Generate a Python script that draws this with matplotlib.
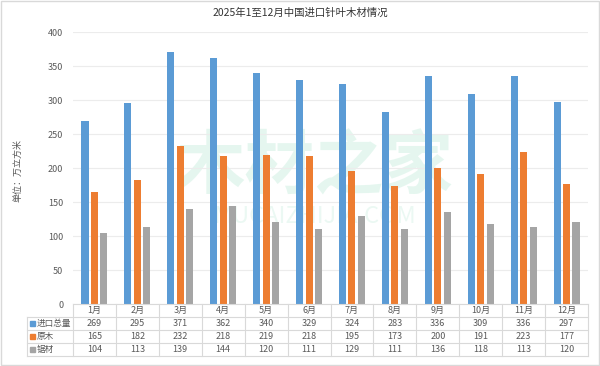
import numpy as np
import matplotlib.pyplot as plt
from matplotlib.patches import Rectangle

plt.rcParams['font.family'] = ['Noto Sans CJK SC', 'DejaVu Sans']

months = ['1月', '2月', '3月', '4月', '5月', '6月', '7月', '8月', '9月', '10月', '11月', '12月']
total = [269, 295, 371, 362, 340, 329, 324, 283, 336, 309, 336, 297]
logs = [165, 182, 232, 218, 219, 218, 195, 173, 200, 191, 223, 177]
lumber = [104, 113, 139, 144, 120, 111, 129, 111, 136, 118, 113, 120]
series_names = ['进口总量', '原木', '锯材']
colors = ['#5B9BD5', '#ED7D31', '#A5A5A5']

W, H = 600, 366
fig = plt.figure(figsize=(6, 3.66), dpi=100)

# pixel helpers
def fx(px):
    return px / W

def fy(py):
    return 1 - py / H

ax_l, ax_r, ax_t, ax_b = 73, 588, 32, 304
ax = fig.add_axes([fx(ax_l), fy(ax_b), fx(ax_r - ax_l), fy(ax_t) - fy(ax_b)])
ax.patch.set_alpha(0)

x = np.arange(len(months))
bw = 0.165
off = 0.22
for i, vals in enumerate([total, logs, lumber]):
    ax.bar(x + (i - 1) * off, vals, width=bw, color=colors[i], zorder=3)

ax.set_xlim(-0.5, len(months) - 0.5)
ax.set_ylim(0, 400)
ax.set_yticks(range(0, 401, 50))
ax.set_xticks([])
ax.grid(axis='y', color='#ECECEC', linewidth=0.8, zorder=0)
for s in ax.spines.values():
    s.set_visible(False)
ax.tick_params(axis='y', length=0, labelsize=6.5, labelcolor='#595959', pad=7)

fig.text(fx(300), fy(13), '2025年1至12月中国进口针叶木材情况', ha='center', va='center',
         fontsize=7.5, color='#333333')
fig.text(fx(18), fy(170), '单位：万立方米', rotation=90, ha='center', va='center',
         fontsize=6.5, color='#595959')

# watermark, behind the bars
ax.text(0.47, 0.5, '木材之家', transform=ax.transAxes, ha='center', va='center', fontsize=50,
        color='#3CC08A', alpha=0.13, fontweight='bold', zorder=1)
ax.text(0.47, 0.32, 'MUCAIZHIJIA.COM', transform=ax.transAxes, ha='center', va='center',
        fontsize=17, color='#3CC08A', alpha=0.10, zorder=1)

# data table below the axes
tab_l = 27
row_h = 13
col_w = (ax_r - ax_l) / len(months)
line_c = '#D9D9D9'
rows_top = ax_b
lines_y = [rows_top + k * row_h for k in range(5)]
# horizontal lines
fig.add_artist(plt.Line2D([fx(ax_l), fx(ax_r)], [fy(lines_y[0]), fy(lines_y[0])], color=line_c, lw=0.8))
for yy in lines_y[1:]:
    fig.add_artist(plt.Line2D([fx(tab_l), fx(ax_r)], [fy(yy), fy(yy)], color=line_c, lw=0.8))
# vertical lines
fig.add_artist(plt.Line2D([fx(tab_l), fx(tab_l)], [fy(lines_y[1]), fy(lines_y[4])], color=line_c, lw=0.8))
for k in range(len(months) + 1):
    xx = ax_l + k * col_w
    fig.add_artist(plt.Line2D([fx(xx), fx(xx)], [fy(lines_y[0]), fy(lines_y[4])], color=line_c, lw=0.8))

for k, m in enumerate(months):
    cx = ax_l + (k + 0.5) * col_w
    fig.text(fx(cx), fy(rows_top + 0.5 * row_h), m, ha='center', va='center',
             fontsize=6.5, color='#595959')
    for r, vals in enumerate([total, logs, lumber]):
        fig.text(fx(cx), fy(rows_top + (r + 1.5) * row_h), str(vals[k]), ha='center',
                 va='center', fontsize=6.5, color='#595959')

for r, name in enumerate(series_names):
    cy = rows_top + (r + 1.5) * row_h
    fig.add_artist(Rectangle((fx(tab_l + 3), fy(cy + 2.5)), fx(5), fy(cy - 2.5) - fy(cy + 2.5),
                             color=colors[r], transform=fig.transFigure))
    fig.text(fx(tab_l + 9.5), fy(cy), name, ha='left', va='center', fontsize=6.2, color='#595959')

# chart border
fig.add_artist(Rectangle((fx(1), fy(365)), fx(598), fy(1) - fy(365), fill=False,
                         edgecolor='#D9D9D9', lw=1, transform=fig.transFigure))

fig.savefig('out.png', dpi=100)
